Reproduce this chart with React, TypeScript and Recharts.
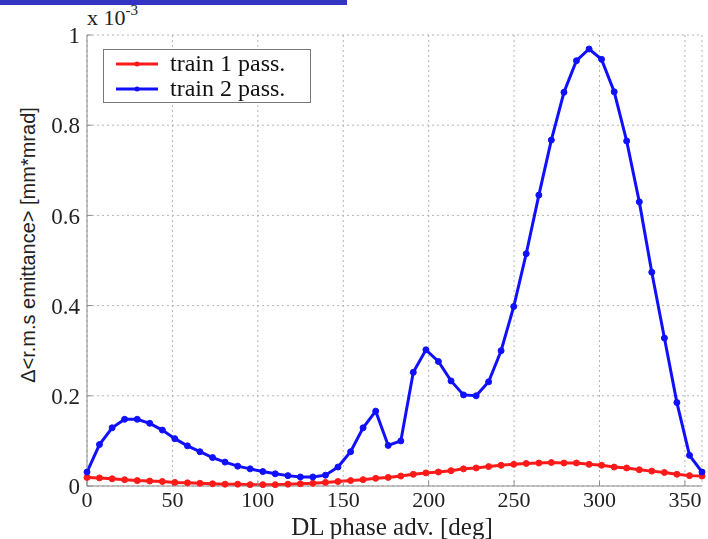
import { LineChart, Line, XAxis, YAxis, CartesianGrid } from 'recharts';

// DL phase advance [deg], one sample every ~7.35 deg
const phaseDeg = [
  0, 7.3, 14.7, 22.0, 29.4, 36.7, 44.1, 51.4, 58.8, 66.1,
  73.5, 80.8, 88.2, 95.5, 102.9, 110.2, 117.6, 124.9, 132.2, 139.6,
  146.9, 154.3, 161.6, 169.0, 176.3, 183.7, 191.0, 198.4, 205.7, 213.1,
  220.4, 227.8, 235.1, 242.4, 249.8, 257.1, 264.5, 271.8, 279.2, 286.5,
  293.9, 301.2, 308.6, 315.9, 323.3, 330.6, 338.0, 345.3, 352.7, 360,
];

// delta rms emittance, x 10^-3 mm*mrad
const train1 = [
  0.019, 0.018, 0.016, 0.014, 0.012, 0.011, 0.010, 0.008, 0.007, 0.006,
  0.005, 0.004, 0.004, 0.003, 0.003, 0.003, 0.004, 0.005, 0.006, 0.008,
  0.010, 0.012, 0.014, 0.017, 0.019, 0.022, 0.026, 0.029, 0.031, 0.034,
  0.038, 0.040, 0.043, 0.046, 0.048, 0.050, 0.051, 0.052, 0.051, 0.051,
  0.048, 0.046, 0.042, 0.040, 0.036, 0.033, 0.030, 0.026, 0.023, 0.022,
];

const train2 = [
  0.031, 0.092, 0.129, 0.148, 0.148, 0.139, 0.124, 0.105, 0.089, 0.076,
  0.063, 0.053, 0.044, 0.038, 0.032, 0.027, 0.023, 0.020, 0.020, 0.024,
  0.042, 0.076, 0.129, 0.166, 0.090, 0.100, 0.252, 0.302, 0.276, 0.233,
  0.202, 0.200, 0.231, 0.300, 0.398, 0.515, 0.645, 0.767, 0.873, 0.943,
  0.969, 0.946, 0.874, 0.765, 0.630, 0.474, 0.328, 0.185, 0.068, 0.031,
];

const xTicks = [0, 50, 100, 150, 200, 250, 300, 350];
const yTicks = [0, 0.2, 0.4, 0.6, 0.8, 1];

const data = phaseDeg.map((deg, i) => ({ deg, t1: train1[i], t2: train2[i] }));

const serif = '"Liberation Serif", "DejaVu Serif", serif';
const frame = '#8c8c8c';
const red = '#ff1a1a';
const blue = '#1010ff';

function LegendBox() {
  const row = (color: string, label: string) => (
    <div style={{ display: 'flex', alignItems: 'center', height: 25 }}>
      <svg width={56} height={10}>
        <line x1={12} x2={54} y1={5} y2={5} stroke={color} strokeWidth={3} />
        <circle cx={33} cy={5} r={2.5} fill={color} />
      </svg>
      <span style={{ marginLeft: 10, fontFamily: serif, fontSize: 24, color: '#111' }}>{label}</span>
    </div>
  );
  return (
    <div
      style={{
        position: 'absolute',
        left: 103,
        top: 49,
        border: '1px solid #777',
        background: '#fff',
        width: 206,
        padding: '1px 0',
      }}
    >
      {row(red, 'train 1 pass.')}
      {row(blue, 'train 2 pass.')}
    </div>
  );
}

export default function App() {
  return (
    <div style={{ position: 'fixed', left: 0, top: 0, width: 708, height: 539, background: '#fff' }}>
      <style>{`.recharts-cartesian-axis-tick-value { font-family: ${serif}; }`}</style>
      <div style={{ position: 'absolute', left: 0, top: 0, width: 347, height: 5, background: '#3434c4' }} />
      <div style={{ position: 'absolute', left: 87, top: 4, fontFamily: serif, fontSize: 22, color: '#222' }}>
        x 10<sup style={{ fontSize: 15, position: 'relative', top: -2 }}>-3</sup>
      </div>
      <div
        style={{
          position: 'absolute',
          left: 28,
          top: 245,
          transform: 'translate(-50%, -50%) rotate(-90deg)',
          whiteSpace: 'nowrap',
          fontFamily: '"Liberation Sans", Arial, sans-serif',
          fontSize: 20,
          color: '#222',
        }}
      >
        Δ&lt;r.m.s emittance&gt; [mm*mrad]
      </div>
      <div
        style={{
          position: 'absolute',
          left: 392,
          top: 514,
          height: 25,
          lineHeight: '25px',
          transform: 'translateX(-50%)',
          whiteSpace: 'nowrap',
          fontFamily: serif,
          fontSize: 25,
          color: '#222',
        }}
      >
        DL phase adv. [deg]
      </div>
      <LineChart
        width={708}
        height={539}
        data={data}
        margin={{ top: 35, right: 6, bottom: 0, left: 0 }}
        style={{ position: 'absolute', left: 0, top: 0, fontFamily: serif }}
      >
        <CartesianGrid stroke="#b4b4b4" strokeDasharray="2 3" />
        <XAxis
          dataKey="deg"
          type="number"
          domain={[0, 360]}
          ticks={xTicks}
          height={53}
          axisLine={{ stroke: frame }}
          tickLine={{ stroke: frame }}
          tickSize={-5}
          tickMargin={10}
          tick={{ fill: '#222', fontFamily: serif, fontSize: 22 }}
        />
        <XAxis
          xAxisId="top"
          orientation="top"
          dataKey="deg"
          type="number"
          domain={[0, 360]}
          ticks={xTicks}
          height={0}
          axisLine={{ stroke: frame }}
          tickLine={{ stroke: frame }}
          tickSize={-5}
          tick={false}
        />
        <YAxis
          type="number"
          domain={[0, 1]}
          ticks={yTicks}
          width={87}
          axisLine={{ stroke: frame }}
          tickLine={{ stroke: frame }}
          tickSize={-5}
          tickMargin={12}
          tickFormatter={(v: number) => (v === 0 || v === 1 ? String(v) : v.toFixed(1))}
          tick={{ fill: '#222', fontFamily: serif, fontSize: 23 }}
        />
        <YAxis
          yAxisId="right"
          orientation="right"
          type="number"
          domain={[0, 1]}
          ticks={yTicks}
          width={0}
          axisLine={{ stroke: frame }}
          tickLine={{ stroke: frame }}
          tickSize={-5}
          tick={false}
        />
        <Line
          dataKey="t1"
          stroke={red}
          strokeWidth={3}
          dot={{ r: 3, fill: red, stroke: red, strokeWidth: 1 }}
          isAnimationActive={false}
        />
        <Line
          dataKey="t2"
          stroke={blue}
          strokeWidth={3}
          dot={{ r: 3, fill: blue, stroke: blue, strokeWidth: 1 }}
          isAnimationActive={false}
        />
      </LineChart>
      <LegendBox />
    </div>
  );
}
